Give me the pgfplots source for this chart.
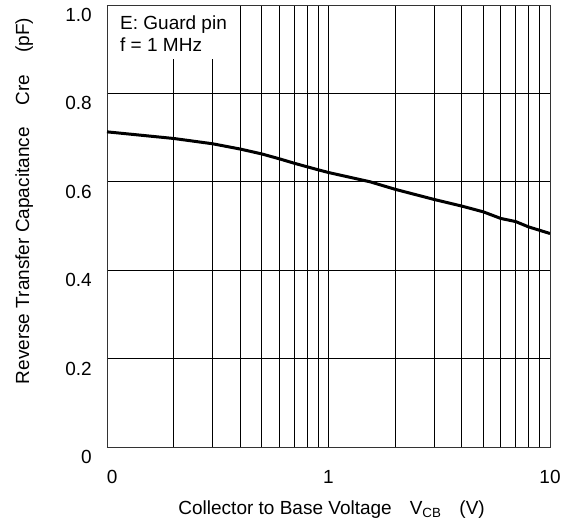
\documentclass[border=0pt]{standalone}
\usepackage{pgfplots}
\pgfplotsset{compat=1.18}
\usepackage{fontspec}
\setmainfont{Liberation Sans}

\pgfplotstableread{
v     c
0.1   0.713
0.2   0.698
0.3   0.686
0.4   0.674
0.5   0.663
0.6   0.652
0.7   0.642
0.8   0.634
0.9   0.627
1.0   0.621
1.54  0.600
2     0.583
3     0.560
4     0.545
5     0.532
6     0.517
7     0.510
8     0.498
10    0.483
}\cre

\begin{document}
\fontsize{19bp}{22bp}\selectfont
\begin{tikzpicture}[x=1bp,y=1bp]
\path[use as bounding box] (-107,-78) rectangle (468,447);
\begin{axis}[
    at={(0,0)}, anchor=south west,
    scale only axis,
    width=443bp, height=442bp,
    xmode=log,
    xmin=0.1, xmax=10,
    ymin=0, ymax=1,
    xtick={0.1,1,10},
    xticklabels={\makebox[0pt][l]{0},1,10},
    minor xtick={0.2,0.3,0.4,0.5,0.6,0.7,0.8,0.9,2,3,4,5,6,7,8,9},
    ytick={0,0.2,0.4,0.6,0.8,1},
    yticklabels={0,0.2,0.4,0.6,0.8,1.0},
    major tick length=0pt, minor tick length=0pt,
    xmajorgrids, xminorgrids, ymajorgrids,
    grid style={black, line width=0.8bp},
    minor grid style={black, line width=0.8bp},
    axis line style={black!80, line width=0.9bp},
    every tick label/.append style={inner sep=0pt, font=\fontsize{19bp}{22bp}\selectfont},
    yticklabel style={anchor=east, xshift=-15bp, yshift=-10bp},
    xticklabel style={anchor=north, yshift=-23bp},
    xlabel={Collector to Base Voltage\hspace{18bp}V\textsubscript{CB}\hspace{18bp}(V)},
    ylabel={Reverse Transfer Capacitance\hspace{22bp}Cre\hspace{22bp}(pF)},
    xlabel style={at={(axis description cs:0.507,-0.1516)}, anchor=base, inner sep=0pt},
    ylabel style={at={(axis description cs:-0.176,0.5566)}, anchor=base, inner sep=0pt},
    label style={font=\fontsize{19bp}{22bp}\selectfont},
]
\addplot[black, line width=3bp, line join=round] table[x=v, y=c] {\cre};
\node[fill=white, anchor=north west, inner sep=0pt, minimum width=122bp, minimum height=53bp]
    at ([xshift=0.6bp, yshift=-0.6bp]rel axis cs:0,1) {};
\node[anchor=north west, inner sep=0pt, align=left, font=\fontsize{19bp}{22bp}\selectfont]
    at ([xshift=13bp, yshift=-11bp]rel axis cs:0,1) {E: Guard pin\\f = 1 MHz};
\end{axis}
\end{tikzpicture}
\end{document}
